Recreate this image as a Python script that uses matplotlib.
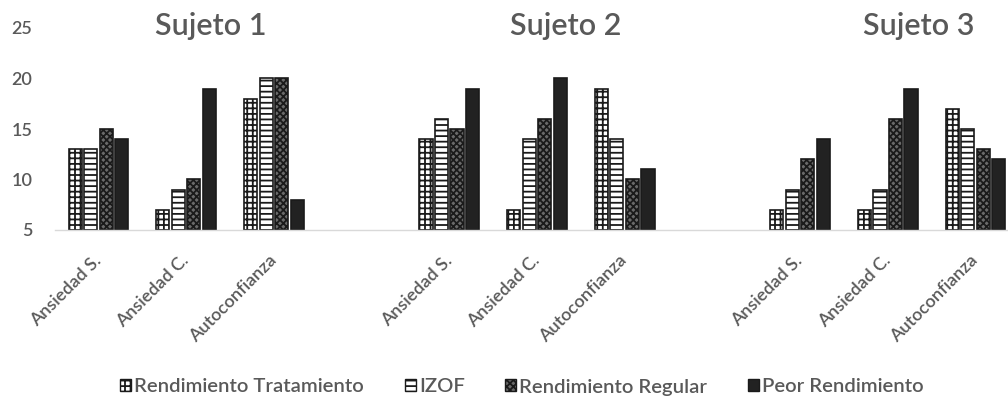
import matplotlib
matplotlib.use("Agg")
import matplotlib.pyplot as plt
import matplotlib.patches as mpatches
import numpy as np

plt.rcParams['font.family'] = ['Lato', 'DejaVu Sans']
plt.rcParams['font.weight'] = 'semibold'
plt.rcParams['hatch.linewidth'] = 1.3

# datos por sujeto: filas = Ansiedad S., Ansiedad C., Autoconfianza
sujetos = ["Sujeto 1", "Sujeto 2", "Sujeto 3"]
variables = ["Ansiedad S.", "Ansiedad C.", "Autoconfianza"]
series = ["Rendimiento Tratamiento", "IZOF", "Rendimiento Regular", "Peor Rendimiento"]

rend_tratamiento = [[13, 7, 18], [14, 7, 19], [7, 7, 17]]
izof = [[13, 9, 20], [16, 14, 14], [9, 9, 15]]
rend_regular = [[15, 10, 20], [15, 16, 10], [12, 16, 13]]
peor_rend = [[14, 19, 8], [19, 20, 11], [14, 19, 12]]

valores = [rend_tratamiento, izof, rend_regular, peor_rend]
hatches = ['+++', '---', 'xxxxx', '']
faces = ['white', 'white', '#6a6a6a', '#222222']
gris = '#595959'

fig = plt.figure(figsize=(10.08, 4.04), dpi=100)
# el eje se sale un poco por la derecha, como en el original
ax = fig.add_axes([54.6 / 1008, 1 - 230 / 404, 964.7 / 1008, 202 / 404])

# 3 categorias por sujeto + un hueco vacio entre sujetos
n_cat = len(sujetos) * (len(variables) + 1) - 1
pos = [s * (len(variables) + 1) + v for s in range(len(sujetos)) for v in range(len(variables))]
etiquetas = [''] * n_cat
for s in range(len(sujetos)):
    for v in range(len(variables)):
        etiquetas[s * (len(variables) + 1) + v] = variables[v]

ancho = 0.15
paso = 0.177
for k, serie in enumerate(valores):
    alturas = np.array(serie).flatten()
    x = np.array(pos) + (k - 1.5) * paso
    ax.bar(x, alturas - 5, ancho, bottom=5, facecolor=faces[k], edgecolor='#1a1a1a',
           hatch=hatches[k], linewidth=1.2, label=series[k])

ax.set_xlim(-0.5, n_cat - 0.5)
ax.set_ylim(5, 25)
ax.set_yticks([5, 10, 15, 20, 25])
ax.set_xticks(range(n_cat))
ax.set_xticklabels(etiquetas)

for sp in ['top', 'right', 'left']:
    ax.spines[sp].set_visible(False)
ax.spines['bottom'].set_color('#d9d9d9')
ax.spines['bottom'].set_linewidth(1.0)

ax.tick_params(axis='y', length=0, pad=16, labelsize=13, labelcolor=gris)
ax.tick_params(axis='x', length=0, pad=20, labelsize=13, labelcolor=gris)
plt.setp(ax.get_xticklabels(), rotation=45, ha='right', va='center', rotation_mode='anchor')

# titulos de cada sujeto
titulos_x = [211, 566, 919]
for t, xp in zip(sujetos, titulos_x):
    fig.text(xp / 1008, 1 - 35 / 404, t, ha='center', va='baseline', fontsize=22, color=gris)

handles = [mpatches.Patch(facecolor=faces[k], edgecolor='#1a1a1a', hatch=hatches[k],
                          linewidth=1.0, label=series[k]) for k in range(4)]
fig.legend(handles=handles, loc='center', bbox_to_anchor=(522 / 1008, 1 - 387 / 404), ncol=4,
           frameon=False, fontsize=14.6, labelcolor=gris, handlelength=0.55, handleheight=0.55,
           handletextpad=0.15, columnspacing=2.0)

fig.savefig("out.png", dpi=100)
